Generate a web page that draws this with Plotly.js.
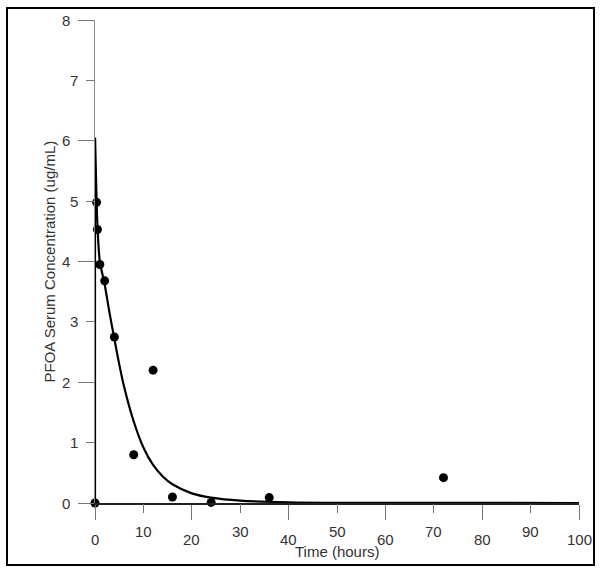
<!DOCTYPE html>
<html>
<head>
<meta charset="utf-8">
<script src="https://cdn.plot.ly/plotly-3.0.1.min.js"></script>
<style>
  html, body { margin: 0; padding: 0; background: #fff; }
  #chart { width: 602px; height: 573px; }
</style>
</head>
<body>
<div id="chart"></div>
<script>
// Observed PFOA serum concentrations
var timeHours = [0, 0.33, 0.5, 1, 2, 4, 8, 12, 16, 24, 36, 72];
var serumConc = [0, 4.98, 4.53, 3.95, 3.68, 2.75, 0.80, 2.20, 0.10, 0.01, 0.09, 0.42];

// Model curve, values
var fitTime = [0, 0, 0.33, 0.5, 1, 2, 3, 4, 5, 6, 8, 10, 12, 14, 16, 20, 24, 30, 40, 50, 100];
var fitConc = [0, 6.05, 5.0, 4.6, 4.0, 3.62, 3.15, 2.72, 2.3, 1.93, 1.35, 0.92, 0.63, 0.44, 0.31, 0.16, 0.09, 0.04, 0.012, 0.004, 0];

// Tick labels
var xMajorTicks = [0, 20, 40, 60, 80, 100];
var xMinorTicks = [10, 30, 50, 70, 90];
var yMajorTicks = [0, 2, 4, 6, 8];
var yMinorTicks = [1, 3, 5, 7];

var xTitle = "Time (hours)";
var yTitle = "PFOA Serum Concentration (ug/mL)";

var fontFam = "Liberation Sans, Arial, sans-serif";
var txtColor = "#333";
var tickFont = {family: fontFam, size: 15, color: txtColor};

var traces = [
  {
    x: fitTime.slice(0, 2), y: fitConc.slice(0, 2),
    mode: "lines", line: {color: "#000", width: 2.2},
    cliponaxis: false, showlegend: false, hoverinfo: "skip"
  },
  {
    x: fitTime.slice(1), y: fitConc.slice(1),
    mode: "lines", line: {color: "#000", width: 2.2, shape: "spline", smoothing: 0.8},
    cliponaxis: false, showlegend: false
  },
  {
    x: timeHours, y: serumConc,
    mode: "markers", marker: {color: "#000", size: 9},
    cliponaxis: false, showlegend: false
  },
  // invisible trace to host the staggered minor-tick axes
  { x: [0], y: [0], xaxis: "x2", yaxis: "y2", mode: "markers", marker: {opacity: 0}, showlegend: false, hoverinfo: "skip" }
];

var W = 602, H = 573;
var L = 95, R = 23, T = 20, B = 70;
var pw = W - L - R, ph = H - T - B;

// staggered tick labels (long ticks -> labels further out)
var ann = [];
xMajorTicks.forEach(function (v) {
  ann.push({text: String(v), xref: "x", yref: "paper", x: v, y: 0,
    xanchor: "center", yanchor: "middle", yshift: -36, showarrow: false, font: tickFont});
});
xMinorTicks.forEach(function (v) {
  ann.push({text: String(v), xref: "x", yref: "paper", x: v, y: 0,
    xanchor: "center", yanchor: "middle", yshift: -28, showarrow: false, font: tickFont});
});
yMajorTicks.forEach(function (v) {
  ann.push({text: String(v), xref: "paper", yref: "y", x: 0, y: v,
    xanchor: "right", yanchor: "middle", xshift: -23, showarrow: false, font: tickFont});
});
yMinorTicks.forEach(function (v) {
  ann.push({text: String(v), xref: "paper", yref: "y", x: 0, y: v,
    xanchor: "right", yanchor: "middle", xshift: -15, showarrow: false, font: tickFont});
});
ann.push({
  text: xTitle, xref: "paper", yref: "paper",
  x: 0.5, y: 0, yshift: -(551 - (T + ph)), xanchor: "center", yanchor: "middle",
  showarrow: false, font: tickFont
});
ann.push({
  text: yTitle, xref: "paper", yref: "paper", textangle: -90,
  x: 0, y: 0.5, xshift: -(L - 49), xanchor: "center", yanchor: "middle",
  showarrow: false, font: tickFont
});

var layout = {
  width: W, height: H,
  margin: {l: L, r: R, t: T, b: B, pad: 0},
  paper_bgcolor: "#fff", plot_bgcolor: "#fff",
  font: {family: fontFam, size: 15, color: txtColor},
  xaxis: {
    range: [0, 100], tickmode: "array", tickvals: xMajorTicks,
    ticks: "outside", ticklen: 15, tickcolor: "#777", tickwidth: 1,
    showticklabels: false,
    showline: true, linecolor: "#222", linewidth: 2,
    showgrid: false, zeroline: false
  },
  xaxis2: {
    range: [0, 100], overlaying: "x", anchor: "y", side: "bottom",
    tickmode: "array", tickvals: xMinorTicks,
    ticks: "outside", ticklen: 9, tickcolor: "#777", tickwidth: 1,
    showticklabels: false,
    showline: false, showgrid: false, zeroline: false
  },
  yaxis: {
    range: [0, 8], tickmode: "array", tickvals: yMajorTicks,
    ticks: "outside", ticklen: 16, tickcolor: "#777", tickwidth: 1,
    showticklabels: false,
    showline: true, linecolor: "#888", linewidth: 1,
    showgrid: false, zeroline: false
  },
  yaxis2: {
    range: [0, 8], overlaying: "y", anchor: "x", side: "left",
    tickmode: "array", tickvals: yMinorTicks,
    ticks: "outside", ticklen: 8, tickcolor: "#777", tickwidth: 1,
    showticklabels: false,
    showline: false, showgrid: false, zeroline: false
  },
  annotations: ann,
  shapes: [{
    type: "rect", xref: "paper", yref: "paper", layer: "above",
    x0: (7 - L) / pw, x1: (594 - L) / pw,
    y0: (T + ph - 565) / ph, y1: (T + ph - 8) / ph,
    line: {color: "#000", width: 2}, fillcolor: "rgba(0,0,0,0)"
  }]
};

Plotly.newPlot("chart", traces, layout, {displayModeBar: false, staticPlot: true});
</script>
</body>
</html>
